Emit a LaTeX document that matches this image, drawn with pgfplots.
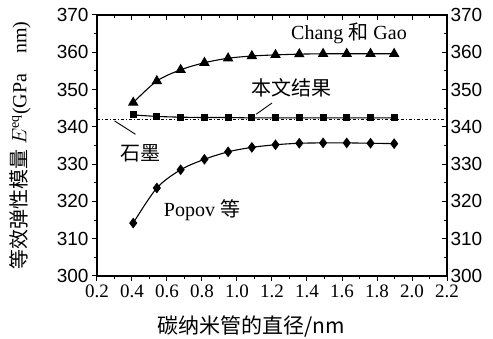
\documentclass[border=0pt]{standalone}
\usepackage{pgfplots}
\pgfplotsset{compat=1.18}
\usepackage{fontspec}
\setmainfont{Liberation Serif}
\newfontfamily\cjk{Noto Sans CJK SC}
\newfontfamily\ysans{Liberation Sans}
\begin{document}
\begin{tikzpicture}[x=1pt,y=1pt]
\pgfplotsset{
  common/.style={
    scale only axis, width=350pt, height=261pt,
    xmin=0.2, xmax=2.2, ymin=300, ymax=370,
    xtick={0.2,0.4,...,2.2}, ytick={300,310,...,370},
    minor x tick num=1, minor y tick num=1,
    major tick length=5pt, minor tick length=3pt,
    axis line style={line width=1.1pt}, tick style={line width=1pt,black},
    /pgf/number format/assume math mode=true,
    /pgf/number format/fixed, /pgf/number format/fixed zerofill,
  },
}
\begin{axis}[common,
  xtick pos=bottom, ytick pos=left, tick align=outside,
  xticklabel style={font=\fontsize{19}{22}\selectfont, /pgf/number format/precision=1},
  yticklabel style={font=\ysans\fontsize{19}{22}\selectfont, /pgf/number format/precision=0},
  xlabel={\cjk\fontsize{21}{24}\selectfont 碳纳米管的直径/nm},
  ylabel={\fontsize{20}{24}\selectfont{\cjk 等效弹性模量} $E^{\mathrm{eq}}$(GPa\quad nm)},
  xlabel style={at={(axis description cs:0.44,-0.195)}, anchor=center},
  ylabel style={at={(axis description cs:-0.22,0.5)}, anchor=center},
]
% Chang and Gao
\addplot[black, line width=1.1pt, smooth, mark=triangle*, mark size=5pt] coordinates {
(0.407,346.5) (0.542,352.3) (0.678,355.3) (0.814,357.2) (0.949,358.4) (1.085,359.0)
(1.220,359.3) (1.356,359.5) (1.492,359.6) (1.627,359.6) (1.763,359.6) (1.898,359.6)};
% this work
\addplot[black, line width=1.1pt, smooth, mark=square*, mark size=3pt] coordinates {
(0.407,343.2) (0.542,342.8) (0.678,342.6) (0.814,342.5) (0.949,342.5) (1.085,342.4)
(1.220,342.4) (1.356,342.4) (1.492,342.4) (1.627,342.4) (1.763,342.4) (1.898,342.4)};
% Popov et al.
\addplot[black, line width=1.1pt, smooth, mark=diamond*, mark size=4.5pt] coordinates {
(0.407,314.2) (0.542,323.6) (0.678,328.5) (0.814,331.3) (0.949,333.3) (1.085,334.5)
(1.220,335.2) (1.356,335.6) (1.492,335.7) (1.627,335.7) (1.763,335.6) (1.898,335.5)};
% graphite
\addplot[black, line width=1pt, dash dot, no marks] coordinates {(0.2,342.1) (2.2,342.1)};
% leader lines
\addplot[black, line width=0.9pt, no marks] coordinates {(0.30,341.6) (0.42,338.0)};
\addplot[black, line width=0.9pt, no marks] coordinates {(1.11,343.4) (1.20,346.4)};
\node[font=\fontsize{20}{24}\selectfont] at (axis cs:1.64,365.0) {Chang {\cjk 和} Gao};
\node[font=\cjk\fontsize{20}{24}\selectfont] at (axis cs:1.31,350.6) {本文结果};
\node[font=\cjk\fontsize{20}{24}\selectfont] at (axis cs:0.45,333.0) {石墨};
\node[font=\fontsize{20}{24}\selectfont] at (axis cs:0.80,317.7) {Popov {\cjk 等}};
\end{axis}
\begin{axis}[common,
  xtick pos=top, ytick pos=right, tick align=inside,
  xticklabels={}, yticklabel pos=right,
  yticklabel style={font=\ysans\fontsize{19}{22}\selectfont, /pgf/number format/precision=0},
]
\addplot[draw=none] coordinates {(0.2,300) (2.2,370)};
\end{axis}
\pgfresetboundingbox
\path[use as bounding box] (-97,-63) rectangle (396,276);
\end{tikzpicture}
\end{document}
